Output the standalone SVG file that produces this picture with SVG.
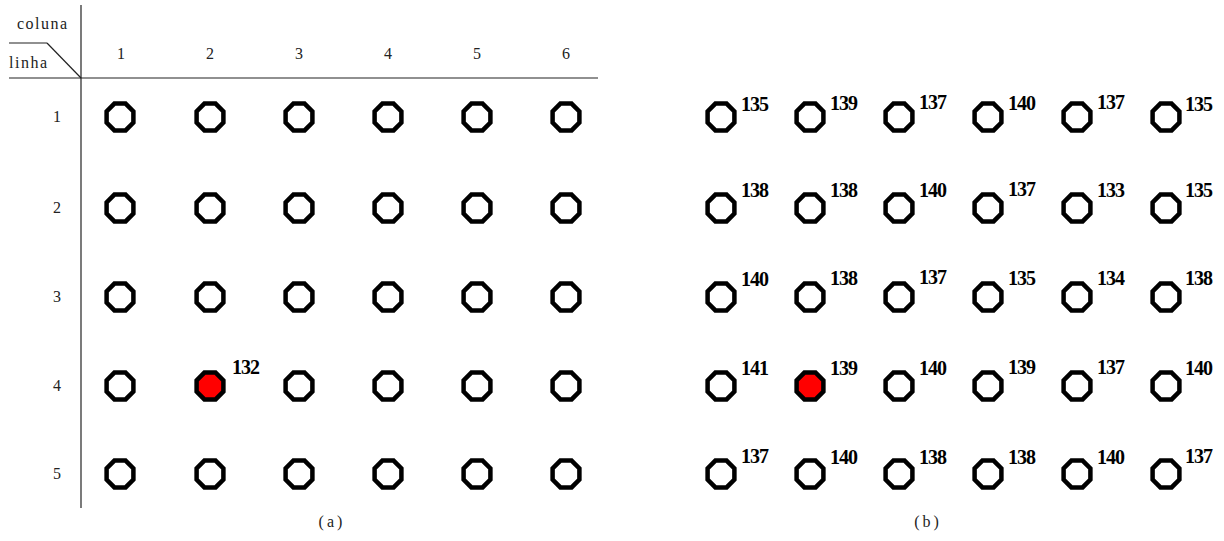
<svg xmlns="http://www.w3.org/2000/svg" xmlns:xlink="http://www.w3.org/1999/xlink" width="1224" height="541" viewBox="0 0 1224 541">
<style>
.oct{fill:#fff;stroke:#000;stroke-width:4.5;stroke-linejoin:miter}
.red{fill:#ff0000}
.ax{stroke:#222;stroke-width:1.2;fill:none}
.hd{font-family:"Liberation Serif",serif;font-size:16px;fill:#222;text-anchor:middle}
.wd{font-family:"Liberation Serif",serif;font-size:16px;letter-spacing:1.5px;fill:#222}
.v{font-family:"Liberation Serif",serif;font-size:20px;font-weight:bold;letter-spacing:-1px;fill:#000}
.cap{font-family:"Liberation Serif",serif;font-size:16px;letter-spacing:3px;fill:#222;text-anchor:middle}
</style>
<defs>
<polygon id="o" points="5.6,-13.4 13.4,-5.6 13.4,5.6 5.6,13.4 -5.6,13.4 -13.4,5.6 -13.4,-5.6 -5.6,-13.4"/>
</defs>
<rect width="1224" height="541" fill="#fff"/>
<g id="axes">
<line class="ax" x1="81" y1="5" x2="81" y2="508"/>
<line class="ax" x1="9" y1="78" x2="598" y2="78"/>
<line class="ax" x1="9" y1="43" x2="47" y2="43"/>
<line class="ax" x1="47" y1="43" x2="81" y2="78"/>
<text class="wd" x="17" y="29">coluna</text>
<text class="wd" x="9" y="68">linha</text>
</g>
<g id="col-headers">
<text class="hd" x="121" y="59">1</text>
<text class="hd" x="210" y="59">2</text>
<text class="hd" x="299" y="59">3</text>
<text class="hd" x="388" y="59">4</text>
<text class="hd" x="477" y="59">5</text>
<text class="hd" x="566" y="59">6</text>
</g>
<g id="row-headers">
<text class="hd" x="57" y="122">1</text>
<text class="hd" x="57" y="213">2</text>
<text class="hd" x="57" y="302">3</text>
<text class="hd" x="57" y="391">4</text>
<text class="hd" x="57" y="479">5</text>
</g>
<g id="grid-a">
<g id="a-r1"><use href="#o" class="oct" x="120" y="117"/><use href="#o" class="oct" x="210" y="117"/><use href="#o" class="oct" x="299" y="117"/><use href="#o" class="oct" x="388" y="117"/><use href="#o" class="oct" x="477" y="117"/><use href="#o" class="oct" x="566" y="117"/></g>
<g id="a-r2"><use href="#o" class="oct" x="120" y="208"/><use href="#o" class="oct" x="210" y="208"/><use href="#o" class="oct" x="299" y="208"/><use href="#o" class="oct" x="388" y="208"/><use href="#o" class="oct" x="477" y="208"/><use href="#o" class="oct" x="566" y="208"/></g>
<g id="a-r3"><use href="#o" class="oct" x="120" y="297"/><use href="#o" class="oct" x="210" y="297"/><use href="#o" class="oct" x="299" y="297"/><use href="#o" class="oct" x="388" y="297"/><use href="#o" class="oct" x="477" y="297"/><use href="#o" class="oct" x="566" y="297"/></g>
<g id="a-r4"><use href="#o" class="oct" x="120" y="386"/><use href="#o" class="oct red" x="210" y="386"/><use href="#o" class="oct" x="299" y="386"/><use href="#o" class="oct" x="388" y="386"/><use href="#o" class="oct" x="477" y="386"/><use href="#o" class="oct" x="566" y="386"/>
<text class="v" x="232" y="374">132</text></g>
<g id="a-r5"><use href="#o" class="oct" x="120" y="474"/><use href="#o" class="oct" x="210" y="474"/><use href="#o" class="oct" x="299" y="474"/><use href="#o" class="oct" x="388" y="474"/><use href="#o" class="oct" x="477" y="474"/><use href="#o" class="oct" x="566" y="474"/></g>
</g>
<g id="grid-b">
<g id="b-r1">
<use href="#o" class="oct" x="721" y="117"/><text class="v" x="741" y="111">135</text>
<use href="#o" class="oct" x="810" y="117"/><text class="v" x="830" y="110">139</text>
<use href="#o" class="oct" x="899" y="117"/><text class="v" x="919" y="109">137</text>
<use href="#o" class="oct" x="988" y="117"/><text class="v" x="1008" y="110">140</text>
<use href="#o" class="oct" x="1077" y="117"/><text class="v" x="1097" y="109">137</text>
<use href="#o" class="oct" x="1166" y="117"/><text class="v" x="1185" y="111">135</text>
</g>
<g id="b-r2">
<use href="#o" class="oct" x="721" y="208"/><text class="v" x="741" y="197">138</text>
<use href="#o" class="oct" x="810" y="208"/><text class="v" x="830" y="197">138</text>
<use href="#o" class="oct" x="899" y="208"/><text class="v" x="919" y="197">140</text>
<use href="#o" class="oct" x="988" y="208"/><text class="v" x="1008" y="196">137</text>
<use href="#o" class="oct" x="1077" y="208"/><text class="v" x="1097" y="197">133</text>
<use href="#o" class="oct" x="1166" y="208"/><text class="v" x="1185" y="197">135</text>
</g>
<g id="b-r3">
<use href="#o" class="oct" x="721" y="297"/><text class="v" x="741" y="286">140</text>
<use href="#o" class="oct" x="810" y="297"/><text class="v" x="830" y="285">138</text>
<use href="#o" class="oct" x="899" y="297"/><text class="v" x="919" y="284">137</text>
<use href="#o" class="oct" x="988" y="297"/><text class="v" x="1008" y="285">135</text>
<use href="#o" class="oct" x="1077" y="297"/><text class="v" x="1097" y="285">134</text>
<use href="#o" class="oct" x="1166" y="297"/><text class="v" x="1185" y="285">138</text>
</g>
<g id="b-r4">
<use href="#o" class="oct" x="721" y="386"/><text class="v" x="741" y="375">141</text>
<use href="#o" class="oct red" x="810" y="386"/><text class="v" x="830" y="375">139</text>
<use href="#o" class="oct" x="899" y="386"/><text class="v" x="919" y="375">140</text>
<use href="#o" class="oct" x="988" y="386"/><text class="v" x="1008" y="374">139</text>
<use href="#o" class="oct" x="1077" y="386"/><text class="v" x="1097" y="374">137</text>
<use href="#o" class="oct" x="1166" y="386"/><text class="v" x="1185" y="375">140</text>
</g>
<g id="b-r5">
<use href="#o" class="oct" x="721" y="474"/><text class="v" x="741" y="463">137</text>
<use href="#o" class="oct" x="810" y="474"/><text class="v" x="830" y="464">140</text>
<use href="#o" class="oct" x="899" y="474"/><text class="v" x="919" y="464">138</text>
<use href="#o" class="oct" x="988" y="474"/><text class="v" x="1008" y="464">138</text>
<use href="#o" class="oct" x="1077" y="474"/><text class="v" x="1097" y="464">140</text>
<use href="#o" class="oct" x="1166" y="474"/><text class="v" x="1185" y="463">137</text>
</g>
</g>
<g id="captions">
<text class="cap" x="332" y="527">(a)</text>
<text class="cap" x="928" y="527">(b)</text>
</g>
</svg>
